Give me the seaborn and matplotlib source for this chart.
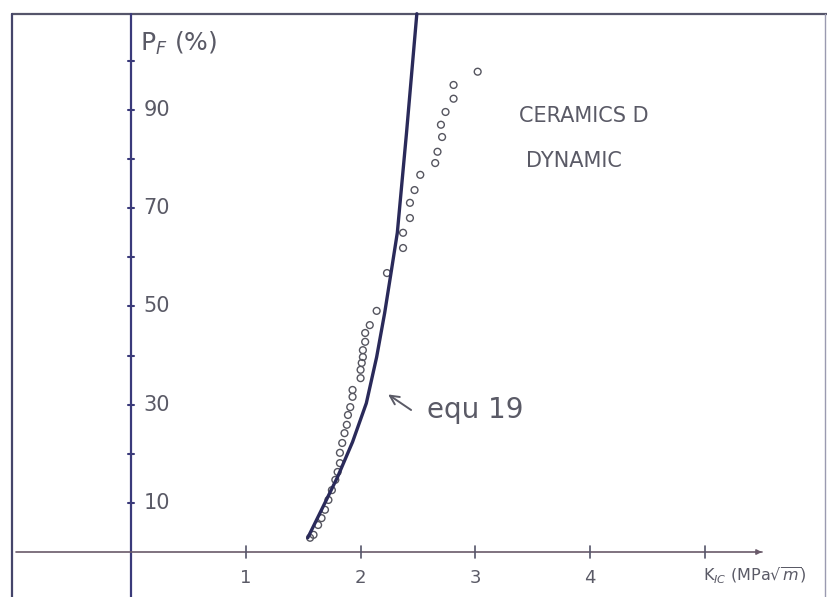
import numpy as np
import pandas as pd
import matplotlib
matplotlib.use("Agg")
import matplotlib.pyplot as plt
import seaborn as sns

# ---- data ----
# experimental points (K_IC in MPa*sqrt(m), failure probability in %)
k_points = [3.02, 2.81, 2.81, 2.74, 2.70, 2.71, 2.67, 2.65, 2.52, 2.47, 2.43, 2.43,
            2.37, 2.37, 2.23, 2.14, 2.08, 2.04, 2.04, 2.02, 2.02, 2.01, 2.00, 2.00,
            1.93, 1.93, 1.91, 1.89, 1.88, 1.86, 1.84, 1.82, 1.82, 1.80, 1.78, 1.75,
            1.72, 1.69, 1.66, 1.63, 1.59, 1.56]
pf_points = [97.8, 95.1, 92.3, 89.6, 87.0, 84.5, 81.5, 79.2, 76.8, 73.7, 71.1, 68.0,
             65.0, 61.9, 56.8, 49.1, 46.2, 44.6, 42.8, 41.1, 39.7, 38.5, 37.1, 35.4,
             33.0, 31.6, 29.5, 27.9, 25.9, 24.2, 22.2, 20.2, 18.1, 16.3, 14.7, 12.6,
             10.6, 8.6, 6.9, 5.5, 3.5, 2.9]
# model curve "equ 19"
curve_k = [1.54, 1.66, 1.80, 1.93, 2.05, 2.14, 2.21, 2.265, 2.32, 2.40, 2.45, 2.49]
curve_pf = [2.9, 8.6, 15.3, 22.4, 30.3, 39.7, 48.7, 56.8, 65.0, 85.3, 98.8, 109.6]

x_ticks = [1, 2, 3, 4, 5]
x_tick_labels = ["1", "2", "3", "4", ""]
y_minor_ticks = [10, 20, 30, 40, 50, 60, 70, 80, 90, 100]
y_tick_labels = [10, 30, 50, 70, 90]

sns.set_theme(style="white")
plt.rcParams['font.family'] = ['DejaVu Sans']

txt = "#5a5a66"

fig = plt.figure(figsize=(8.27, 5.97), dpi=100)
ax = fig.add_axes([0, 0, 1, 1])
XMIN, XMAX = -1.141, 6.063
YMIN, YMAX = -9.16, 112.4
ax.set_xlim(XMIN, XMAX)
ax.set_ylim(YMIN, YMAX)
ax.axis("off")

# frame of the sheet
top = 109.6
left = -1.037
right = 6.045
ax.plot([left, XMAX], [top, top], color="#55556a", lw=1.6)
ax.plot([left, left], [YMIN, top], color="#45456a", lw=1.6)
ax.plot([right, right], [YMIN, top], color="#9a9ab0", lw=1.0)

# axes
ax.plot([0, 0], [YMIN, top], color="#3a3a7a", lw=1.6)
ax.plot([-1.0, 5.5], [0, 0], color="#6a5a6a", lw=1.2)
ax.annotate("", xy=(5.52, 0), xytext=(5.42, 0),
            arrowprops=dict(arrowstyle="-|>", color="#6a5a6a", lw=1.0, mutation_scale=8))

for xt, lab in zip(x_ticks, x_tick_labels):
    ax.plot([xt, xt], [-1.2, 1.2], color="#55556a", lw=1.2)
    if lab:
        ax.text(xt, -5.2, lab, ha="center", va="center", fontsize=13, color=txt)
ax.text(5.43, -4.8, r"K$_{IC}$ (MPa$\sqrt{m}$)", ha="center", va="center",
        fontsize=11.5, color=txt)

for yt in y_minor_ticks:
    ax.plot([-0.03, 0.03], [yt, yt], color="#3a3a7a", lw=1.5)
for yt in y_tick_labels:
    ax.text(0.11, yt, str(yt), ha="left", va="center", fontsize=15, color=txt)
ax.text(0.08, 103.5, r"P$_F$ (%)", ha="left", va="center", fontsize=18, color=txt)

# curve equ 19
curve_df = pd.DataFrame({"K": curve_k, "PF": curve_pf})
sns.lineplot(data=curve_df, x="K", y="PF", sort=False, color="#2a2a5a", lw=2.4, ax=ax)

# experimental points
pts_df = pd.DataFrame({"K": k_points, "PF": pf_points})
sns.scatterplot(data=pts_df, x="K", y="PF", marker="o", s=24, facecolor="none",
                edgecolor="#55555f", linewidth=1.0, ax=ax)

# annotation
ax.annotate("", xy=(2.22, 32.4), xytext=(2.46, 28.6),
            arrowprops=dict(arrowstyle="->", color=txt, lw=1.4, mutation_scale=16))
ax.text(2.58, 29.0, "equ 19", ha="left", va="center", fontsize=20, color=txt)

ax.text(3.38, 88.8, "CERAMICS D", ha="left", va="center", fontsize=15, color=txt)
ax.text(3.44, 79.6, "DYNAMIC", ha="left", va="center", fontsize=15, color=txt)

ax.set_xlim(XMIN, XMAX)
ax.set_ylim(YMIN, YMAX)
fig.savefig("out.png", dpi=100)
